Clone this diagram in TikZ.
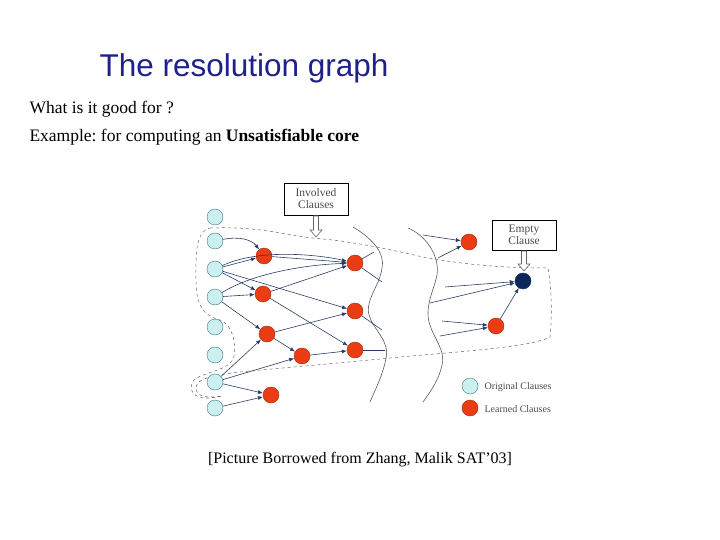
\documentclass[tikz,border=0pt]{standalone}
\usepackage{fontspec}
\setmainfont{Liberation Serif}
\newfontfamily\sansf{Liberation Sans}
\usetikzlibrary{arrows.meta}
\definecolor{titleblue}{RGB}{32,32,140}
\definecolor{orig}{RGB}{204,240,240}
\definecolor{origb}{RGB}{60,120,140}
\definecolor{learn}{RGB}{235,60,20}
\definecolor{edgec}{RGB}{40,60,100}
\definecolor{dark}{RGB}{10,40,90}
\begin{document}
\frenchspacing
\begin{tikzpicture}[x=1pt,y=-1pt,
  o/.style={circle,draw=origb,fill=orig,minimum size=16pt,inner sep=0pt},
  l/.style={circle,draw=learn!70!black,fill=learn,minimum size=16pt,inner sep=0pt},
  e/.style={-{Latex[length=5pt,width=4pt]},draw=edgec,line width=0.6pt},
  ln/.style={draw=edgec,line width=0.6pt},
  wave/.style={draw=gray!70!black,line width=0.6pt},
  box/.style={draw=black,fill=white,align=center,font=\fontsize{11.5}{12}\selectfont\color{gray!60!black},inner sep=2pt},
  hol/.style={draw=gray!80!black,fill=white,line width=0.6pt}]
\useasboundingbox (0,0) rectangle (720,540);
\node[anchor=west,font=\sansf\fontsize{31.5}{34}\selectfont,text=titleblue] (title) at (96,68) {The resolution graph};
\node[anchor=west,font=\fontsize{17.5}{19}\selectfont] (q) at (26,109) {What is it good for ?};
\node[anchor=west,font=\fontsize{17.5}{19}\selectfont] (ex) at (26,137) {Example: for computing an \textbf{Unsatisfiable core}};
\node[font=\fontsize{16}{18}\selectfont] (cap) at (360,460) {[Picture Borrowed from Zhang, Malik SAT'03]};
% dashed region
\draw[dashed,gray!80!black,line width=0.5pt] (210,228) .. controls (260,226) and (290,236) .. (313,238)
  .. controls (360,242) and (400,252) .. (423,257) .. controls (460,264) and (500,268) .. (548,268)
  .. controls (552,290) and (552,320) .. (550,337) .. controls (530,348) and (450,352) .. (390,358)
  .. controls (330,364) and (280,368) .. (240,372) .. controls (215,375) and (196,378) .. (196,388)
  .. controls (196,398) and (210,398) .. (222,396) .. controls (200,402) and (188,395) .. (192,383)
  .. controls (196,372) and (232,372) .. (234,356) .. controls (236,340) and (232,325) .. (220,320)
  .. controls (200,315) and (196,300) .. (196,280) .. controls (196,260) and (194,232) .. (210,228);
% waves
\draw[wave] (353,227) .. controls (375,240) and (385,255) .. (382,268) .. controls (380,285) and (365,300) .. (369,315)
  .. controls (373,330) and (390,340) .. (386,358) .. controls (383,375) and (375,390) .. (370,402);
\draw[wave] (408,228) .. controls (425,235) and (440,255) .. (437,275) .. controls (434,290) and (425,305) .. (429,322)
  .. controls (433,338) and (446,350) .. (442,365) .. controls (439,380) and (430,392) .. (423,402);
% nodes
\foreach \n/\y in {1/217,2/241,3/269,4/297,5/327,6/355,7/382,8/408} \node[o] (b\n) at (215,\y) {};
\node[l] (A) at (264,256) {};
\node[l] (B) at (263,294) {};
\node[l] (C) at (267,334) {};
\node[l] (D) at (302,356) {};
\node[l] (E) at (271,395) {};
\node[l] (F) at (355,263) {};
\node[l] (G) at (355,311) {};
\node[l] (H) at (355,350) {};
\node[l] (I) at (469,242) {};
\node[l] (J) at (496,326) {};
\node[circle,draw=dark,fill=dark,minimum size=16pt,inner sep=0pt] (K) at (523,281) {};
% boxes
\node[box,minimum width=64pt,minimum height=32pt] (inv) at (316,199) {Involved\\Clauses};
\node[box,minimum width=64pt,minimum height=30pt] (emp) at (524,235) {Empty\\Clause};
% hollow arrows
\draw[hol] (313.5,216) -- (313.5,230) -- (310,230) -- (316,237) -- (322,230) -- (318.5,230) -- (318.5,216) -- cycle;
\draw[hol] (521.5,251) -- (521.5,264) -- (518,264) -- (524,271) -- (530,264) -- (526.5,264) -- (526.5,251) -- cycle;
% edges
\draw[e] (b2) .. controls (240,236) and (252,240) .. (A);
\draw[e] (b3) -- (A);
\draw[e] (b3) .. controls (260,248) and (320,255) .. (F);
\draw[e] (b3) -- (G);
\draw[e] (b3) -- (B);
\draw[e] (b4) .. controls (250,275) and (300,265) .. (F);
\draw[e] (b4) -- (B);
\draw[e] (b4) -- (C);
\draw[e] (A) -- (F);
\draw[e] (B) -- (F);
\draw[e] (B) -- (H);
\draw[e] (C) -- (G);
\draw[e] (C) -- (D);
\draw[e] (D) -- (H);
\draw[e] (b7) -- (C);
\draw[e] (b7) -- (D);
\draw[e] (b7) -- (E);
\draw[e] (b8) -- (E);
\coordinate (f1) at (374,252); \coordinate (f2) at (382,282);
\coordinate (g1) at (382,330); \coordinate (h1) at (385,350);
\draw[ln] (F) -- (f1); \draw[ln] (F) -- (f2); \draw[ln] (G) -- (g1); \draw[ln] (H) -- (h1);
\coordinate (i1) at (423,235); \coordinate (i2) at (438,258);
\coordinate (k1) at (445,287); \coordinate (k2) at (430,303);
\coordinate (j1) at (442,321); \coordinate (j2) at (440,336);
\draw[e] (i1) -- (I); \draw[e] (i2) -- (I);
\draw[e] (k1) -- (K); \draw[e] (k2) -- (K);
\draw[e] (j1) -- (J); \draw[e] (j2) -- (J);
\draw[e] (J) -- (K);
% legend
\node[o] (lo) at (470,386) {};
\node[l] (ll) at (470,408) {};
\node[anchor=west,font=\fontsize{10}{11}\selectfont,text=gray!60!black] (lot) at (481,387) {Original Clauses};
\node[anchor=west,font=\fontsize{10}{11}\selectfont,text=gray!60!black] (llt) at (481,409) {Learned Clauses};
\end{tikzpicture}
\end{document}
